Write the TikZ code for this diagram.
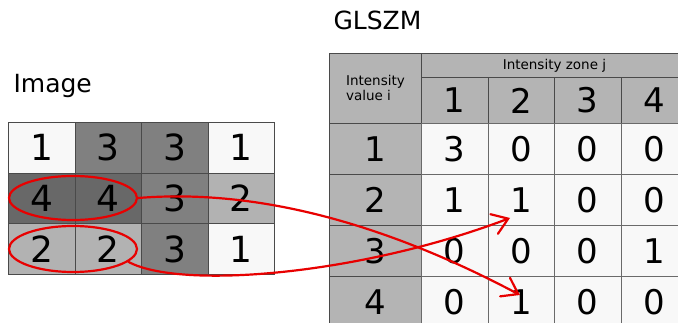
\documentclass[tikz,border=0pt]{standalone}
\usepackage{fontspec}
\setmainfont{DejaVu Sans}
\usetikzlibrary{shapes.geometric,arrows.meta}
\definecolor{gw}{HTML}{F8F8F8}
\definecolor{gm}{HTML}{808080}
\definecolor{gd}{HTML}{686868}
\definecolor{gl}{HTML}{B2B2B2}
\definecolor{hd}{HTML}{B4B4B4}
\definecolor{ln}{HTML}{4A4A4A}
\definecolor{lnl}{HTML}{6A6A6A}
\definecolor{rd}{HTML}{E80000}
\begin{document}
\begin{tikzpicture}[x=1pt,y=-1pt,
  imcell/.style={draw=ln,line width=0.9pt,minimum width=66.5pt,minimum height=50.7pt,
    inner sep=0pt,anchor=north west,font=\fontsize{36}{36}\selectfont},
  hdr/.style={draw=ln,line width=0.9pt,fill=hd,inner sep=0pt,anchor=north west},
  dcell/.style={draw=lnl,line width=0.9pt,fill=gw,inner sep=0pt,anchor=north west,
    minimum width=66.5pt,minimum height=51pt,font=\fontsize{34}{34}\selectfont},
  bignum/.style={font=\fontsize{34}{34}\selectfont},
  title/.style={anchor=base west,font=\fontsize{25}{25}\selectfont},
  ring/.style={ellipse,draw=rd,line width=2.2pt,inner sep=0pt,minimum width=128pt},
  redarrow/.style={draw=rd,line width=2.2pt,line cap=round,
    -{Straight Barb[length=15pt,width=21pt,line cap=round]}}]
\useasboundingbox (0,0) rectangle (678,323);
\clip (0,0) rectangle (678,323);
\fill[white] (0,0) rectangle (678,323);
% titles
\node[title] (lblimg) at (10,93) {Image};
\node[title] (lblglszm) at (330,30) {GLSZM};
% image grid
\foreach \r/\c/\v/\f in {1/1/1/gw,1/2/3/gm,1/3/3/gm,1/4/1/gw,
                         2/1/4/gd,2/2/4/gd,2/3/3/gm,2/4/2/gl,
                         3/1/2/gl,3/2/2/gl,3/3/3/gm,3/4/1/gw}
  \node[imcell,fill=\f] (im\r\c) at ({8+(\c-1)*66.5},{122+(\r-1)*50.7}) {\v};
% table header
\node[hdr,minimum width=92pt,minimum height=70pt,align=left,
      font=\fontsize{13.5}{15}\selectfont] (corner) at (329,53) {Intensity\\value i};
\node[hdr,minimum width=266pt,minimum height=24pt,
      font=\fontsize{13.5}{15}\selectfont] (zone) at (421,53) {Intensity zone j};
\foreach \c in {1,2,3,4}
  \node[hdr,minimum width=66.5pt,minimum height=46pt,bignum] (h\c) at ({421+(\c-1)*66.5},77) {\c};
\foreach \r in {1,2,3,4}
  \node[hdr,minimum width=92pt,minimum height=51pt,bignum] (rh\r) at (329,{123+(\r-1)*51}) {\r};
\foreach \r/\c/\v in {1/1/3,1/2/0,1/3/0,1/4/0,
                      2/1/1,2/2/1,2/3/0,2/4/0,
                      3/1/0,3/2/0,3/3/0,3/4/1,
                      4/1/0,4/2/1,4/3/0,4/4/0}
  \node[dcell] (t\r\c) at ({421+(\c-1)*66.5},{123+(\r-1)*51}) {\v};
% zones
\node[ring,minimum height=44pt] (e1) at (73,198) {};
\node[ring,minimum height=46pt] (e2) at (73,249) {};
\coordinate (a1end) at (520,295);
\coordinate (a2end) at (510,218);
\draw[redarrow] (e1.east) .. controls (260,188) and (390,226) .. (a1end);
\draw[redarrow] (e2.-13) .. controls (180,290) and (360,275) .. (a2end);
\end{tikzpicture}
\end{document}
